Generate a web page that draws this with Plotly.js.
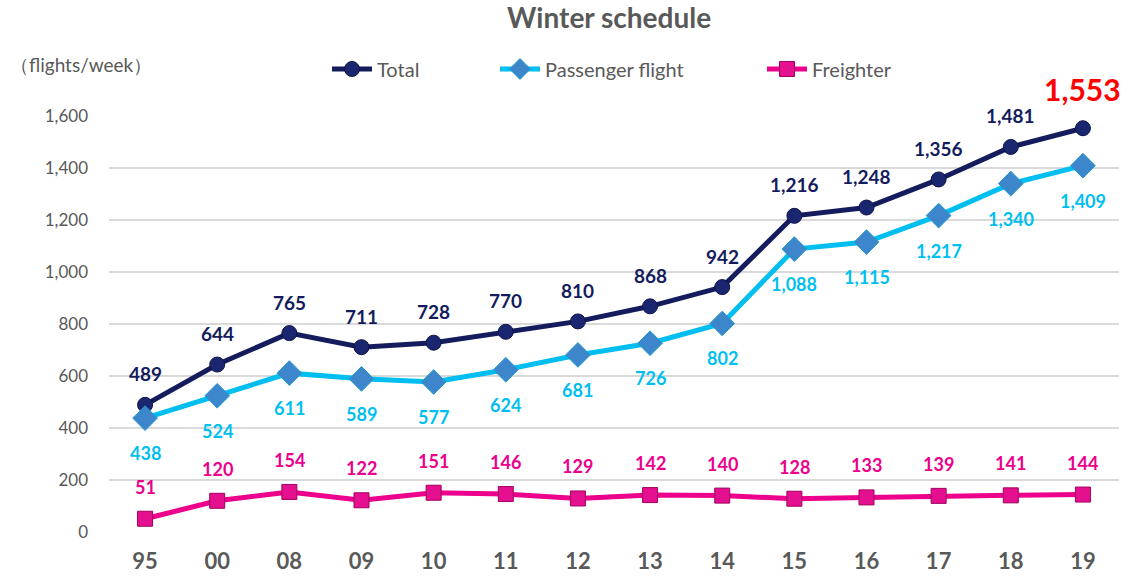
<!DOCTYPE html>
<html><head><meta charset="utf-8">
<script src="https://cdn.plot.ly/plotly-3.0.1.min.js"></script>
<style>html,body{margin:0;padding:0;background:#fff}#chart{width:1128px;height:582px}</style>
</head><body><div id="chart"></div>
<script>
const categories = ["95","00","08","09","10","11","12","13","14","15","16","17","18","19"];
const totalValues = [489,644,765,711,728,770,810,868,942,1216,1248,1356,1481,1553];
const passengerValues = [438,524,611,589,577,624,681,726,802,1088,1115,1217,1340,1409];
const freighterValues = [51,120,154,122,151,146,129,142,140,128,133,139,141,144];
const yTicks = [0,200,400,600,800,1000,1200,1400,1600];

const FONT = "Lato, 'Open Sans', sans-serif";
const cNavy = "#141C5E", cCyan = "#00BFF0", cMag = "#EC008C";
const idx = categories.map((c, i) => i);

const traces = [
  {x: idx, y: totalValues, name: "Total", type: "scatter", mode: "lines+markers", legend: "legend",
   line: {color: cNavy, width: 5}, marker: {symbol: "circle", size: 15, color: "#1B2670", line: {color: "#0E1448", width: 1}}},
  {x: idx, y: passengerValues, name: "Passenger flight", type: "scatter", mode: "lines+markers", legend: "legend2",
   line: {color: cCyan, width: 5}, marker: {symbol: "diamond", size: 19, color: "#3E86CC", line: {color: "#1F9BD0", width: 1}}},
  {x: idx, y: freighterValues, name: "Freighter", type: "scatter", mode: "lines+markers", legend: "legend3",
   line: {color: cMag, width: 5}, marker: {symbol: "square", size: 15, color: "#E5108F", line: {color: "#A0005E", width: 1}}}
];

const fmt = v => v.toLocaleString("en-US");
const annotations = [];
idx.forEach(i => {
  const last = i === categories.length - 1;
  annotations.push({x: i, y: totalValues[i], text: fmt(totalValues[i]), showarrow: false,
    yshift: last ? 39 : 31, font: {family: FONT, size: last ? 30 : 19, color: last ? "#FF0000" : cNavy, weight: "bold"}});
  annotations.push({x: i, y: passengerValues[i], text: fmt(passengerValues[i]), showarrow: false,
    yshift: -35, font: {family: FONT, size: 18, color: cCyan, weight: "bold"}});
  annotations.push({x: i, y: freighterValues[i], text: fmt(freighterValues[i]), showarrow: false,
    yshift: 32, font: {family: FONT, size: 18, color: cMag, weight: "bold"}});
});
annotations.push({xref: "paper", yref: "paper", x: -0.1, y: 1.125, xanchor: "left", yanchor: "middle",
  text: "（flights/week）", showarrow: false, font: {family: FONT, size: 19, color: "#595959"}});

const legFont = {family: FONT, size: 20, color: "#595959"};
const mkLeg = x => ({orientation: "h", x: x, xanchor: "left", y: 1.113, yanchor: "middle",
  font: legFont, itemwidth: 40, bgcolor: "rgba(0,0,0,0)"});

const layout = {
  width: 1128, height: 582,
  margin: {l: 109, r: 9, t: 116, b: 50},
  paper_bgcolor: "#ffffff", plot_bgcolor: "#ffffff",
  title: {text: "<b>Winter schedule</b>", x: 0.54, xanchor: "center", y: 0.968, yanchor: "middle",
    font: {family: FONT, size: 28, color: "#595959"}},
  showlegend: true,
  legend: mkLeg((327 - 109) / 1010),
  legend2: mkLeg((495 - 109) / 1010),
  legend3: mkLeg((762 - 109) / 1010),
  xaxis: {range: [-0.5, categories.length - 0.5], tickvals: idx, ticktext: categories,
    showgrid: false, zeroline: false, showline: false, ticks: "",
    tickfont: {family: FONT, size: 22, color: "#595959", weight: "bold"}, ticklabelstandoff: 14},
  yaxis: {range: [0, 1600], tickvals: yTicks, ticktext: yTicks.map(fmt), showgrid: true,
    gridcolor: "#D9D9D9", gridwidth: 1.5, zeroline: false, showline: false, ticks: "",
    tickfont: {family: FONT, size: 17, color: "#595959"}, ticklabelstandoff: 20},
  annotations: annotations
};

Plotly.newPlot("chart", traces, layout, {displayModeBar: false, staticPlot: true});
</script></body></html>
